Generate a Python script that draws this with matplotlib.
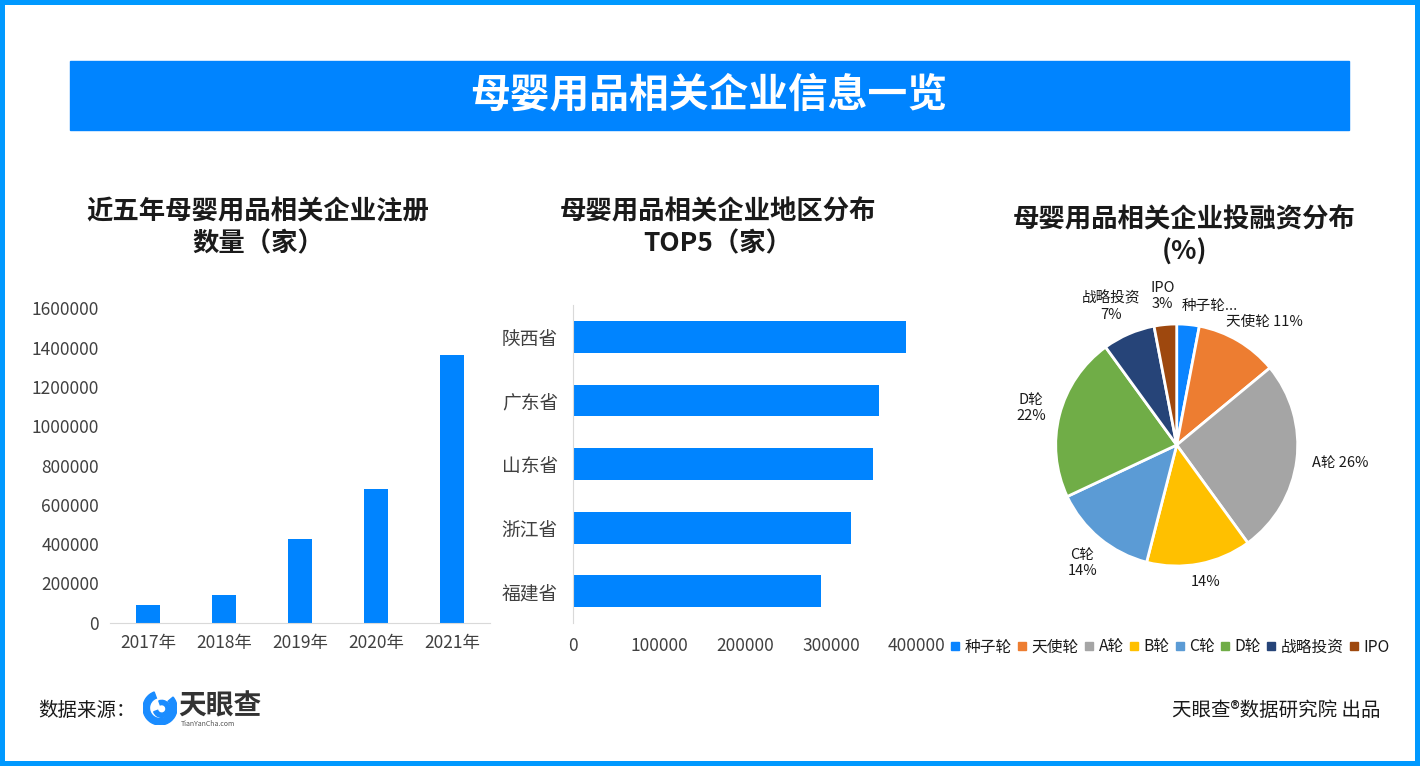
import matplotlib
matplotlib.use('Agg')
import matplotlib.pyplot as plt
import numpy as np
from matplotlib.patches import Rectangle, Wedge
from matplotlib.lines import Line2D
from matplotlib.ticker import StrMethodFormatter

plt.rcParams['font.family'] = ['Noto Sans CJK SC', 'DejaVu Sans']

# data
years = ['2017年', '2018年', '2019年', '2020年', '2021年']
reg_counts = [90000, 141000, 426000, 680000, 1362000]

provinces = ['陕西省', '广东省', '山东省', '浙江省', '福建省']
prov_counts = [387600, 356200, 349200, 323500, 288600]

rounds = ['种子轮', '天使轮', 'A轮', 'B轮', 'C轮', 'D轮', '战略投资', 'IPO']
round_pct = [3, 11, 26, 14, 14, 22, 7, 3]
round_labels = ['种子轮...', '天使轮 11%', 'A轮 26%', '14%', 'C轮\n14%', 'D轮\n22%', '战略投资\n7%', 'IPO\n3%']
round_colors = ['#0a84ff', '#ed7d31', '#a5a5a5', '#ffc000', '#5b9bd5', '#70ad47', '#264478', '#9e480e']

BLUE = '#0084ff'
TXT = '#404040'
W, H = 1420, 766

fig = plt.figure(figsize=(14.2, 7.66), dpi=100)


def px(x0, y0, x1, y1):
    return [x0 / W, 1 - y1 / H, (x1 - x0) / W, (y1 - y0) / H]


# frame + banner
fig.patches.append(Rectangle((0, 0), 1, 1, transform=fig.transFigure, fill=False,
                             edgecolor='#0099ff', linewidth=7.2))
fig.patches.append(Rectangle((70 / W, 1 - 130 / H), 1279 / W, 69 / H,
                             transform=fig.transFigure, color=BLUE))
fig.text(709 / W, 1 - 95 / H, '母婴用品相关企业信息一览', color='white', fontsize=28.6,
         fontweight='bold', ha='center', va='center')

# left: registrations
ax1 = fig.add_axes(px(110, 308.3, 490, 622.7))
ax1.bar(range(len(years)), reg_counts, width=0.32, color=BLUE)
ax1.set_xlim(-0.5, len(years) - 0.5)
ax1.set_ylim(0, 1600000)
ax1.set_yticks(np.arange(0, 1600001, 200000))
ax1.yaxis.set_major_formatter(StrMethodFormatter('{x:.0f}'))
ax1.set_xticks(range(len(years)))
ax1.set_xticklabels(years)
for s in ['top', 'right', 'left']:
    ax1.spines[s].set_visible(False)
ax1.spines['bottom'].set_color('#d9d9d9')
ax1.tick_params(length=0, labelsize=12.5, colors=TXT)
ax1.tick_params(axis='y', pad=8)
ax1.tick_params(axis='x', pad=8)
fig.text(258 / W, 1 - 228 / H, '近五年母婴用品相关企业注册\n数量（家）', fontsize=19,
         fontweight='bold', ha='center', va='center', linespacing=1.25, color='#1a1a1a')

# middle: provinces
ax2 = fig.add_axes(px(573.3, 305, 916.7, 623))
ax2.barh(range(len(provinces)), prov_counts, height=0.5, color=BLUE)
ax2.set_ylim(len(provinces) - 0.5, -0.5)
ax2.set_xlim(0, 400000)
ax2.set_xticks(np.arange(0, 400001, 100000))
ax2.xaxis.set_major_formatter(StrMethodFormatter('{x:.0f}'))
ax2.set_yticks(range(len(provinces)))
ax2.set_yticklabels(provinces)
for s in ['top', 'right', 'bottom']:
    ax2.spines[s].set_visible(False)
ax2.spines['left'].set_color('#d9d9d9')
ax2.tick_params(length=0, labelsize=12.5, colors=TXT)
ax2.tick_params(axis='y', labelsize=13.5, pad=11)
ax2.tick_params(axis='x', pad=10)
fig.text(718 / W, 1 - 228 / H, '母婴用品相关企业地区分布\nTOP5（家）', fontsize=19,
         fontweight='bold', ha='center', va='center', linespacing=1.25, color='#1a1a1a')

# right: pie
cx, cy, R = 1176.7, 445, 121
ax3 = fig.add_axes(px(cx - 1.5 * R, cy - 1.5 * R, cx + 1.5 * R, cy + 1.5 * R))
ax3.pie(round_pct, colors=round_colors, startangle=90, counterclock=False, radius=1,
        wedgeprops=dict(edgecolor='white', linewidth=2))
ax3.set_xlim(-1.5, 1.5)
ax3.set_ylim(-1.5, 1.5)
ax3.set_aspect('equal')
ax3.axis('off')
cum = np.cumsum([0] + round_pct)
mids = 90 - (cum[:-1] + cum[1:]) / 2 * 3.6
lab_dist = [1.18, 1.25, 1.36, 1.16, 1.25, 1.24, 1.27, 1.24]
lab_shift = [-8, -5, 1, 1, 1, 0, 2, 0]
for lab, m, d, sh in zip(round_labels, mids, lab_dist, lab_shift):
    a = np.deg2rad(m + sh)
    ax3.text(d * np.cos(a), d * np.sin(a), lab, ha='center', va='center',
             fontsize=10.5, color='#1a1a1a', linespacing=1.2)
fig.text(1184 / W, 1 - 236 / H, '母婴用品相关企业投融资分布\n(%)', fontsize=19,
         fontweight='bold', ha='center', va='center', linespacing=1.25, color='#1a1a1a')

handles = [Line2D([], [], marker='s', linestyle='none', markersize=6, color=c) for c in round_colors]
fig.legend(handles, rounds, loc='center', bbox_to_anchor=(1170 / W, 1 - 647 / H), ncol=8,
           frameon=False, handlelength=0.6, handletextpad=0.3, columnspacing=0.35,
           fontsize=11.3, borderaxespad=0, labelcolor='#1a1a1a')

# footer
fig.text(38 / W, 1 - 710 / H, '数据来源：', fontsize=14, color='#1a1a1a', ha='left', va='center')
axl = fig.add_axes(px(143, 691, 177, 725))
axl.set_xlim(-1, 1)
axl.set_ylim(-1, 1)
axl.set_aspect('equal')
axl.axis('off')
axl.add_patch(Wedge((0, 0), 1.0, 110, 400, width=0.38, color='#1a8cff'))
axl.add_patch(Wedge((0.1, -0.05), 0.5, 200, 470, width=0.25, color='#1a8cff'))
fig.text(178 / W, 1 - 706 / H, '天眼查', fontsize=20, fontweight='bold', color='#333333',
         ha='left', va='center')
fig.text(181 / W, 1 - 724 / H, 'TianYanCha.com', fontsize=5, color='#555555', ha='left', va='center')
fig.text(1380 / W, 1 - 710 / H, '天眼查®数据研究院 出品', fontsize=14, color='#1a1a1a',
         ha='right', va='center')

fig.savefig('out.png', dpi=100, facecolor='white')
